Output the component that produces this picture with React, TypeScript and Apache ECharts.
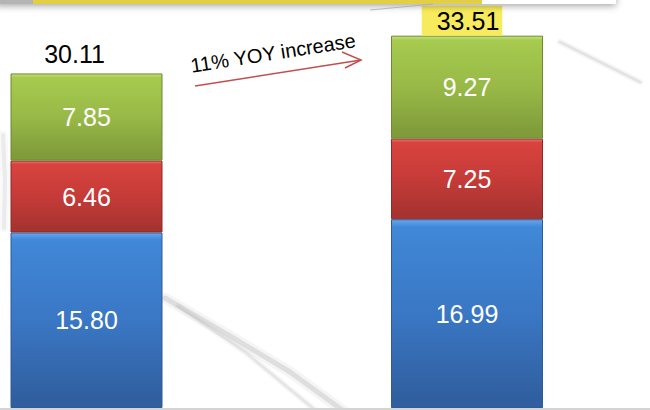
import React, { useEffect, useRef } from "react";
import * as echarts from "echarts";

const categories = ["Year 1", "Year 2"];
const blueValues = [15.8, 16.99];
const redValues = [6.46, 7.25];
const greenValues = [7.85, 9.27];
const totals = [30.11, 33.51];
const annotation = "11% YOY increase";

function grad(top: string, light: string, mid: string, bottom: string) {
  return new echarts.graphic.LinearGradient(0, 0, 0, 1, [
    { offset: 0, color: top },
    { offset: 0.04, color: light },
    { offset: 0.5, color: mid },
    { offset: 0.95, color: bottom },
    { offset: 1, color: bottom },
  ]);
}

function streak(points: number[][], width: number, alpha: number) {
  return [
    {
      type: "polyline",
      z: -10,
      shape: { points },
      style: { stroke: `rgba(190,190,190,${alpha * 0.5})`, lineWidth: width * 2.2, lineCap: "round", lineJoin: "round" },
    },
    {
      type: "polyline",
      z: -10,
      shape: { points },
      style: { stroke: `rgba(170,170,170,${alpha})`, lineWidth: width, lineCap: "round", lineJoin: "round" },
    },
  ];
}

export default function App() {
  const ref = useRef<HTMLDivElement>(null);
  useEffect(() => {
    if (!ref.current) return;
    const chart = echarts.init(ref.current, null, { renderer: "svg" });
    const labelInside = {
      show: true,
      position: "inside",
      color: "#ffffff",
      fontSize: 25,
      fontFamily: "Liberation Sans, Arial, sans-serif",
      formatter: (p: any) => Number(p.value).toFixed(2),
    };
    chart.setOption({
      animation: false,
      backgroundColor: "#ffffff",
      grid: { left: 86.5, right: 183, top: 8, bottom: 2, containLabel: false },
      xAxis: {
        type: "category",
        data: categories,
        boundaryGap: false,
        axisLine: { show: false },
        axisTick: { show: false },
        axisLabel: { show: false },
      },
      yAxis: {
        type: "value",
        min: 0,
        max: 36,
        show: false,
        splitLine: { show: false },
      },
      graphic: [
        {
          type: "line",
          z: -5,
          shape: { x1: 0, y1: 409, x2: 650, y2: 409 },
          style: { stroke: "#d4d4d4", lineWidth: 2 },
        },
        ...streak([[165, 298], [230, 336], [290, 372], [345, 412]], 5, 0.3),
        ...streak([[178, 306], [245, 352], [315, 410]], 3, 0.22),
        ...streak([[560, 42], [600, 62], [640, 82]], 3, 0.25),
        ...streak([[3, 135], [5, 180], [4, 228]], 4, 0.18),
        {
          type: "rect",
          z: 5,
          shape: { x: -5, y: -20, width: 621, height: 24 },
          style: { fill: "#ffffff", shadowBlur: 7, shadowOffsetY: 2, shadowColor: "rgba(0,0,0,0.35)" },
        },
        {
          type: "rect",
          z: 6,
          shape: { x: 0, y: 0, width: 33, height: 4 },
          style: { fill: "#b4b4b4" },
        },
        {
          type: "rect",
          z: 6,
          shape: { x: 33, y: 0, width: 449, height: 4 },
          style: { fill: "#e3cf45" },
        },
        {
          type: "line",
          z: 6,
          shape: { x1: 370, y1: 10, x2: 433, y2: 4 },
          style: { stroke: "rgba(170,170,170,0.8)", lineWidth: 1 },
        },
        {
          type: "line",
          z: 6,
          shape: { x1: 195, y1: 86, x2: 361, y2: 60 },
          style: { stroke: "#c0504d", lineWidth: 1.5 },
        },
        {
          type: "polyline",
          z: 6,
          shape: { points: [[342, 52], [361, 60], [345, 68]] },
          style: { stroke: "#c0504d", lineWidth: 1.5, fill: null },
        },
        {
          type: "text",
          z: 6,
          x: 273,
          y: 53,
          rotation: 0.155,
          style: {
            text: annotation,
            fontSize: 20,
            fontFamily: "Liberation Sans, Arial, sans-serif",
            fill: "#000000",
            align: "center",
            verticalAlign: "middle",
          },
        },
      ],
      series: [
        {
          name: "Blue",
          type: "bar",
          stack: "t",
          barWidth: 152,
          data: blueValues,
          itemStyle: {
            color: grad("#67a6ee", "#4088d8", "#3a77c4", "#305f9f"),
            borderColor: "#2e5a96",
            borderWidth: 1,
          },
          label: labelInside,
        },
        {
          name: "Red",
          type: "bar",
          stack: "t",
          data: redValues,
          itemStyle: {
            color: grad("#f27672", "#d9433f", "#c53b38", "#a63330"),
            borderColor: "#8f2a27",
            borderWidth: 1,
          },
          label: labelInside,
        },
        {
          name: "Green",
          type: "bar",
          stack: "t",
          data: greenValues,
          itemStyle: {
            color: grad("#c5e37a", "#a6cb4f", "#98b947", "#7f9b3a"),
            borderColor: "#6f8833",
            borderWidth: 1,
          },
          label: labelInside,
        },
        {
          name: "Total",
          type: "bar",
          stack: "t",
          data: totals.map((t, i) => ({
            value: 0,
            label:
              i === 0
                ? { offset: [-12, 0], distance: 7 }
                : {
                    offset: [-5, 0],
                    distance: 0,
                    backgroundColor: "#f7ea5c",
                    padding: [3, 3, 2, 15],
                  },
          })),
          itemStyle: { color: "rgba(0,0,0,0)" },
          label: {
            show: true,
            position: "top",
            color: "#000000",
            fontSize: 25,
            lineHeight: 25,
            fontFamily: "Liberation Sans, Arial, sans-serif",
            formatter: (p: any) => totals[p.dataIndex].toFixed(2),
          },
        },
      ],
    });
    return () => chart.dispose();
  }, []);
  return (
    <div
      ref={ref}
      style={{ position: "fixed", left: 0, top: 0, width: 650, height: 410 }}
    />
  );
}
